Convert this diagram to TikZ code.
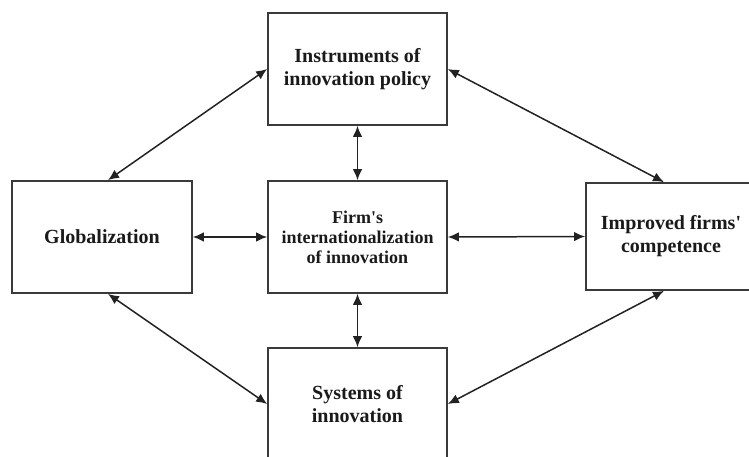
\documentclass[tikz,border=0pt]{standalone}
\usepackage{fontspec}
\setmainfont{Liberation Serif}
\usetikzlibrary{arrows.meta}
\definecolor{boxgray}{HTML}{3A3A3A}
\definecolor{textgray}{HTML}{1A1A1A}
\definecolor{linegray}{HTML}{222222}
\begin{document}
\begin{tikzpicture}[x=1pt,y=-1pt,
  box/.style={draw=boxgray, line width=1.7pt, fill=white, align=center,
    inner sep=0pt, text=textgray, font=\fontsize{20}{23}\selectfont\bfseries},
  midtext/.style={font=\fontsize{18}{20}\selectfont\bfseries},
  link/.style={line width=1.5pt, draw=linegray,
    {Latex[length=11pt,width=9.5pt]}-{Latex[length=11pt,width=9.5pt]}}]
\useasboundingbox (0,0) rectangle (749,457);
\clip (0,0) rectangle (749,457);
\node[box, minimum width=179pt, minimum height=112pt] (top) at (357.5,69)
  {Instruments of\\innovation policy};
\node[box, minimum width=180pt, minimum height=112pt] (glob) at (102,237)
  {Globalization};
\node[box, midtext, minimum width=179pt, minimum height=112pt] (mid) at (357.5,237)
  {Firm\textquotesingle s\\internationalization\\of innovation};
\node[box, minimum width=174pt, minimum height=107pt] (right) at (673,236.5) {};
\node[text=textgray, font=\fontsize{20}{23}\selectfont\bfseries, align=center] (righttext) at (671,236.5)
  {Improved firms\textquotesingle\\competence};
\node[box, minimum width=179pt, minimum height=112pt] (bot) at (357.5,404)
  {Systems of\\innovation};
\draw[link] ([xshift=6pt]glob.north) -- (top.west);
\draw[link] (top.east) -- ([xshift=-9pt]right.north);
\draw[link] ([xshift=6pt]glob.south) -- (bot.west);
\draw[link] ([xshift=-9pt]right.south) -- (bot.east);
\draw[link] (glob.east) -- (mid.west);
\draw[link] (mid.east) -- (right.west);
\draw[link] (top.south) -- (mid.north);
\draw[link] (mid.south) -- (bot.north);
\end{tikzpicture}
\end{document}
